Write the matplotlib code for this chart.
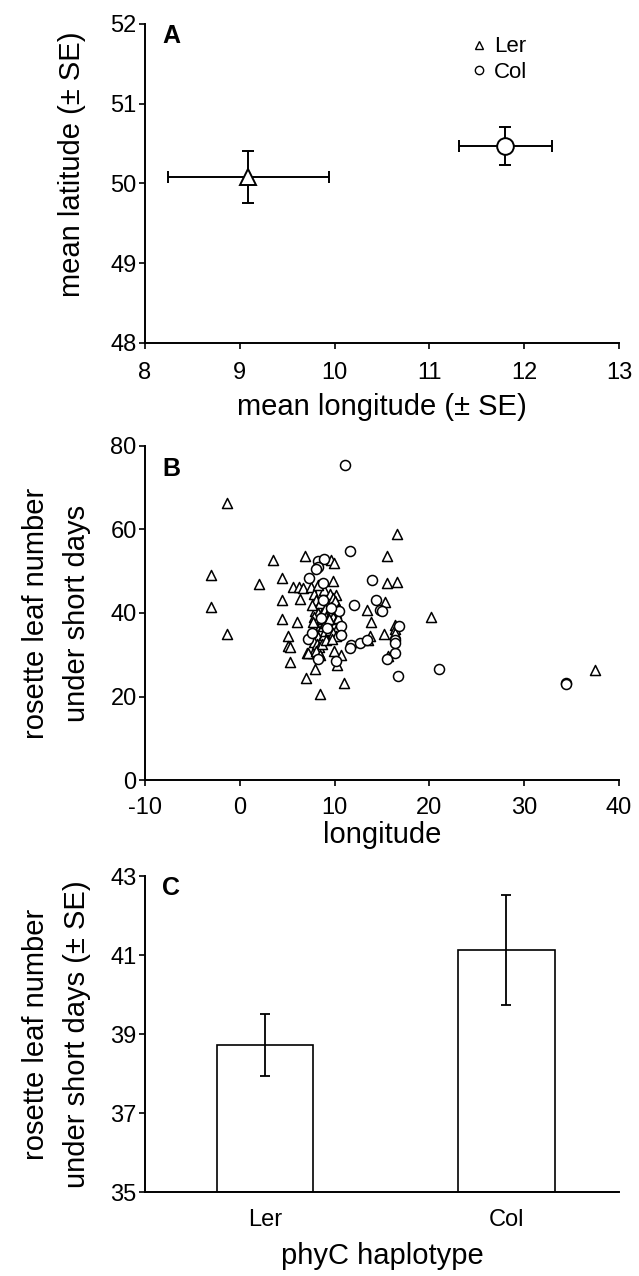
import matplotlib
matplotlib.use("Agg")
import matplotlib.pyplot as plt

plt.rcParams['font.family'] = ['Liberation Sans', 'DejaVu Sans']
plt.rcParams['font.size'] = 17
plt.rcParams['axes.unicode_minus'] = False

# panel A: mean position per haplotype
haplotypes = ['Ler', 'Col']
mean_lon = [9.09, 11.80]
lon_se = [0.85, 0.49]
mean_lat = [50.08, 50.47]
lat_se = [0.33, 0.24]

# panel B: accessions (longitude, rosette leaf number)
ler_lon = [-3.0, -3.0, -1.4, -1.3, 2.0, 3.5, 4.5, 4.5, 4.5, 6.0, 5.6, 6.2, 6.7, 7.5, 6.9,
           6.4, 5.1, 5.1, 5.3, 5.3, 7.0, 7.9, 8.5, 7.1, 7.7, 8.4, 9.9, 10.3, 10.7, 11.0,
           13.5, 15.6, 9.6, 9.9, 9.8, 10.2, 10.0, 15.5, 16.6, 15.5, 16.6, 15.3, 13.4, 13.8,
           13.7, 15.2, 16.4, 16.4, 16.4, 20.2, 37.5, 9.8, 10.7, 7.2,
           7.8, 8.0, 8.2, 8.5, 8.8, 7.9, 8.3, 8.6, 9.0, 7.8, 8.1, 8.4, 8.7, 9.1, 7.9, 8.2,
           8.5, 8.8, 9.0, 8.0, 8.3, 8.6, 8.9, 7.8, 8.1, 8.4, 8.7, 9.1, 8.0, 8.5, 7.6, 8.9,
           8.2, 7.7, 9.0,
           9.5, 9.8, 10.1, 9.6, 9.9, 10.2, 9.5, 9.8, 10.1, 9.6, 9.9, 10.3, 9.5, 9.8, 10.1,
           9.7, 10.0, 10.4, 9.4, 10.4]
ler_leaves = [49.0, 41.5, 66.3, 35.0, 47.0, 52.8, 48.3, 43.0, 38.6, 37.9, 46.2, 46.2, 45.9, 46.3, 53.7,
              43.3, 34.4, 32.2, 28.2, 31.8, 24.4, 26.5, 20.6, 30.4, 30.4, 30.4, 30.8, 27.6, 30.0, 23.3,
              33.6, 29.7, 52.8, 51.9, 47.7, 44.4, 42.8, 53.6, 59.0, 47.3, 47.4, 42.7, 40.7, 37.9,
              34.4, 35.0, 37.2, 36.2, 35.2, 39.0, 26.3, 35.4, 35.9, 30.4,
              44.5, 43.0, 41.5, 42.5, 44.0, 40.5, 40.0, 39.5, 41.0, 39.0, 38.0, 37.5, 38.5, 39.0, 36.5, 36.0,
              35.5, 36.8, 37.5, 35.0, 34.2, 33.5, 34.8, 33.0, 32.5, 31.8, 32.5, 33.5, 31.0, 30.0, 42.0, 45.5,
              46.8, 37.8, 35.8,
              44.5, 43.5, 42.0, 41.5, 40.5, 40.0, 39.5, 39.0, 38.2, 37.5, 37.0, 36.5, 36.0, 35.2, 34.5,
              33.8, 42.8, 41.0, 38.5, 38.8]
col_lon = [11.1, 11.6, 8.2, 8.9, 8.3, 8.0, 7.3, 8.8, 13.9, 12.0, 14.4, 14.8, 15.0, 10.5, 8.8,
           10.7, 10.7, 11.7, 12.7, 13.4, 7.2, 11.6, 16.4, 16.4, 16.4, 16.8, 15.5, 21.0, 16.7,
           34.4, 34.4, 8.3, 10.2, 9.2, 8.6, 9.6, 7.6]
col_leaves = [75.5, 54.9, 52.4, 53.0, 51.0, 50.6, 48.4, 47.2, 48.0, 42.0, 43.2, 40.7, 40.5, 40.4, 43.2,
              36.9, 34.8, 32.4, 32.9, 33.6, 33.7, 31.5, 30.3, 33.6, 32.8, 37.0, 29.1, 26.5, 24.8,
              23.3, 23.1, 28.9, 28.5, 36.5, 38.8, 41.2, 35.2]

# panel C: mean leaf number per haplotype
leaf_mean = [38.73, 41.13]
leaf_se = [0.79, 1.40]

fig = plt.figure(figsize=(6.39, 12.76), dpi=100)
axA = fig.add_axes([0.2269, 0.7312, 0.7418, 0.2500])
axB = fig.add_axes([0.2269, 0.3887, 0.7418, 0.2618])
axC = fig.add_axes([0.2269, 0.0658, 0.7418, 0.2476])


def style(ax):
    for s in ['top', 'right']:
        ax.spines[s].set_visible(False)
    for s in ['left', 'bottom']:
        ax.spines[s].set_linewidth(1.4)
    ax.tick_params(direction='out', length=4, width=1.2, labelsize=17, pad=2)


# A
style(axA)
axA.tick_params(axis='x', pad=10)
markers = ['^', 'o']
for i in range(2):
    axA.errorbar(mean_lon[i], mean_lat[i], xerr=lon_se[i], yerr=lat_se[i], fmt=markers[i],
                 mfc='white', mec='black', ms=12, mew=1.4, ecolor='black', elinewidth=1.4,
                 capsize=4, capthick=1.4, zorder=3)
axA.plot([], [], '^', mfc='white', mec='black', ms=6, mew=1.0, ls='none', label='Ler')
axA.plot([], [], 'o', mfc='white', mec='black', ms=6, mew=1.0, ls='none', label='Col')
axA.legend(loc='upper right', frameon=False, fontsize=16, handletextpad=0.1, handlelength=1.2,
           borderaxespad=0.3, labelspacing=0.2, bbox_to_anchor=(0.84, 1.01))
axA.set_xlim(8, 13)
axA.set_ylim(48, 52)
axA.set_xticks([8, 9, 10, 11, 12, 13])
axA.set_yticks([48, 49, 50, 51, 52])
axA.set_xlabel('mean longitude (± SE)', fontsize=21, labelpad=6)
axA.set_ylabel('mean latitude (± SE)', fontsize=21)
axA.yaxis.set_label_coords(-0.125, 0.56)
axA.text(0.036, 1.0, 'A', transform=axA.transAxes, fontsize=18, fontweight='bold', va='top')

# B
style(axB)
axB.tick_params(axis='x', pad=8)
axB.scatter(ler_lon, ler_leaves, marker='^', s=52, facecolors='white', edgecolors='black',
            linewidths=1.1, zorder=3)
axB.scatter(col_lon, col_leaves, marker='o', s=52, facecolors='white', edgecolors='black',
            linewidths=1.1, zorder=3)
axB.set_xlim(-10, 40)
axB.set_ylim(0, 80)
axB.set_xticks([-10, 0, 10, 20, 30, 40])
axB.set_yticks([0, 20, 40, 60, 80])
axB.set_xlabel('longitude', fontsize=21, labelpad=2)
axB.set_ylabel('rosette leaf number\nunder short days', fontsize=21, labelpad=14, linespacing=1.6)
axB.text(0.036, 0.967, 'B', transform=axB.transAxes, fontsize=18, fontweight='bold', va='top')

# C
style(axC)
xpos = [0, 1]
axC.bar(xpos, [m - 35 for m in leaf_mean], bottom=35, width=0.40, color='white',
        edgecolor='black', linewidth=1.2)
axC.errorbar(xpos, leaf_mean, yerr=leaf_se, fmt='none', ecolor='black', elinewidth=1.3,
             capsize=3.5, capthick=1.3)
axC.set_xlim(-0.497, 1.466)
axC.set_ylim(35, 43)
axC.set_yticks([35, 37, 39, 41, 43])
axC.set_xticks(xpos)
axC.set_xticklabels(haplotypes)
axC.tick_params(axis='x', length=0, pad=12)
axC.set_xlabel('phyC haplotype', fontsize=21, labelpad=8)
axC.set_ylabel('rosette leaf number\nunder short days (± SE)', fontsize=21, labelpad=14,
               linespacing=1.6)
axC.text(0.036, 1.0, 'C', transform=axC.transAxes, fontsize=18, fontweight='bold', va='top')

fig.savefig('out.png', dpi=100)
